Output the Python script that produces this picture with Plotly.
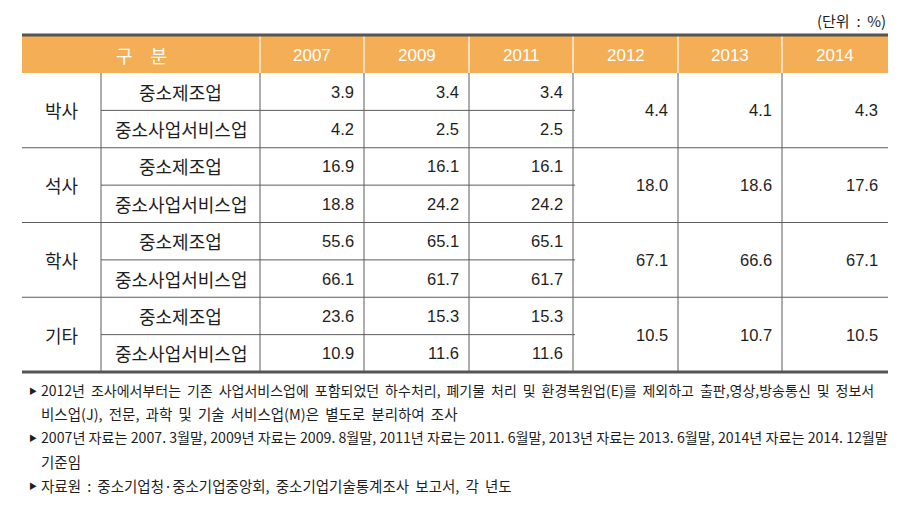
import plotly.graph_objects as go

# ---- data ----
degrees = ["박사", "석사", "학사", "기타"]
industries = ["중소제조업", "중소사업서비스업"]
split_years = ["2007", "2009", "2011"]
merged_years = ["2012", "2013", "2014"]

# 2007/2009/2011: per degree, [제조업, 서비스업]
val_2007 = [[3.9, 4.2], [16.9, 18.8], [55.6, 66.1], [23.6, 10.9]]
val_2009 = [[3.4, 2.5], [16.1, 24.2], [65.1, 61.7], [15.3, 11.6]]
val_2011 = [[3.4, 2.5], [16.1, 24.2], [65.1, 61.7], [15.3, 11.6]]
# 2012~: one value per degree
val_2012 = [4.4, 18.0, 67.1, 10.5]
val_2013 = [4.1, 18.6, 66.6, 10.7]
val_2014 = [4.3, 17.6, 67.1, 10.5]

header_label = "구 분"
unit_label = "(단위 : %)"
notes = [
    ["2012년 조사에서부터는 기존 사업서비스업에 포함되었던 하수처리, 폐기물 처리 및 환경복원업(E)를 제외하고 출판,영상,방송통신 및 정보서",
     "비스업(J), 전문, 과학 및 기술 서비스업(M)은 별도로 분리하여 조사"],
    ["2007년 자료는 2007. 3월말, 2009년 자료는 2009. 8월말, 2011년 자료는 2011. 6월말, 2013년 자료는 2013. 6월말, 2014년 자료는 2014. 12월말",
     "기준임"],
    ["자료원 : 중소기업청·중소기업중앙회, 중소기업기술통계조사 보고서, 각 년도"],
]

# ---- layout geometry (coordinates in page pixels) ----
OFF = 8          # page body margin
W, H = 916 - 2 * OFF, 506 - 2 * OFF
NUMFONT = "Liberation Sans, Arial, sans-serif"
KFONT = "Noto Sans CJK KR, sans-serif"
ORANGE = "#F4AE56"
LINE = "#5c5c5c"
TXT = "#1e1e1e"

xs = [22, 101, 260, 364, 469, 573, 678, 782, 888]   # column edges
top, head_bot, bottom = 35, 73, 372
row_h = (bottom - head_bot) / 8
pad = 8

# footnote line styles: (font size, extra space glyph)
note_styles = [(14.0, "\u2009"), (14.5, "\u2009"), (14.15, ""), (14.5, "\u2009"), (14.5, "\u2009")]
note_y = [390, 413.5, 437, 461, 485]

shapes = []
ann = []

# header band
shapes.append(dict(type="rect", x0=xs[0], x1=xs[-1], y0=top, y1=head_bot,
                   fillcolor=ORANGE, line_width=0, layer="below"))
for x in xs[2:-1]:
    shapes.append(dict(type="line", x0=x, x1=x, y0=top, y1=head_bot,
                       line=dict(color="white", width=1.2)))

ann.append(dict(x=(xs[0] + xs[2]) / 2, y=(top + head_bot) / 2 + 1,
                text=header_label.replace(" ", "\u2003"),
                font=dict(family=KFONT, size=18, color="white")))
for i, yr in enumerate(split_years + merged_years):
    ann.append(dict(x=(xs[i + 2] + xs[i + 3]) / 2, y=(top + head_bot) / 2 + 1, text=yr,
                    font=dict(family=NUMFONT, size=17, color="white")))

# body grid
for x in xs[1:-1]:
    shapes.append(dict(type="line", x0=x, x1=x, y0=head_bot, y1=bottom,
                       line=dict(color=LINE, width=1)))
for g in range(4):
    y_mid = head_bot + (2 * g + 1) * row_h
    shapes.append(dict(type="line", x0=xs[1], x1=xs[5] + 2, y0=y_mid, y1=y_mid,
                       line=dict(color=LINE, width=1)))
    if g > 0:
        y_sep = head_bot + 2 * g * row_h
        shapes.append(dict(type="line", x0=xs[0], x1=xs[-1], y0=y_sep, y1=y_sep,
                           line=dict(color=LINE, width=1)))
shapes.append(dict(type="line", x0=xs[0], x1=xs[-1], y0=top, y1=top,
                   line=dict(color="#555555", width=3)))
shapes.append(dict(type="line", x0=xs[0], x1=xs[-1], y0=bottom, y1=bottom,
                   line=dict(color="#555555", width=3)))

# body text
split_vals = [val_2007, val_2009, val_2011]
merged_vals = [val_2012, val_2013, val_2014]
for g, deg in enumerate(degrees):
    y_grp = head_bot + (2 * g + 1) * row_h
    ann.append(dict(x=(xs[0] + xs[1]) / 2, y=y_grp, text=deg,
                    font=dict(family=KFONT, size=18, color=TXT)))
    for r, ind in enumerate(industries):
        y_row = head_bot + (2 * g + r + 0.5) * row_h
        ann.append(dict(x=(xs[1] + xs[2]) / 2, y=y_row, text=ind,
                        font=dict(family=KFONT, size=18, color=TXT)))
        for c, vals in enumerate(split_vals):
            ann.append(dict(x=xs[c + 3] - pad, y=y_row, text=f"{vals[g][r]:.1f}",
                            xanchor="right",
                            font=dict(family=NUMFONT, size=16.5, color=TXT)))
    for c, vals in enumerate(merged_vals):
        ann.append(dict(x=xs[c + 6] - pad, y=y_grp, text=f"{vals[g]:.1f}",
                        xanchor="right",
                        font=dict(family=NUMFONT, size=16.5, color=TXT)))

# unit label
ann.append(dict(x=xs[-1], y=20, text=unit_label.replace(" ", "\u00a0 "), xanchor="right",
                font=dict(family=KFONT, size=15, color=TXT)))

# footnotes
k = 0
for note in notes:
    ann.append(dict(x=27, y=note_y[k], text="▶", xanchor="left",
                    font=dict(family=KFONT, size=8, color=TXT)))
    for line in note:
        size, extra = note_styles[k]
        ann.append(dict(x=39, y=note_y[k], text=line.replace(" ", extra + " "),
                        xanchor="left", font=dict(family=KFONT, size=size, color=TXT)))
        k += 1

for a in ann:
    a.setdefault("xanchor", "center")
    a.update(xref="x", yref="y", yanchor="middle", showarrow=False)

fig = go.Figure()
fig.update_layout(
    width=W, height=H,
    margin=dict(l=0, r=0, t=0, b=0),
    paper_bgcolor="white", plot_bgcolor="white",
    xaxis=dict(range=[OFF, OFF + W], visible=False, fixedrange=True),
    yaxis=dict(range=[OFF + H, OFF], visible=False, fixedrange=True),
    shapes=shapes, annotations=ann, showlegend=False,
)
fig.write_html("out.html")
